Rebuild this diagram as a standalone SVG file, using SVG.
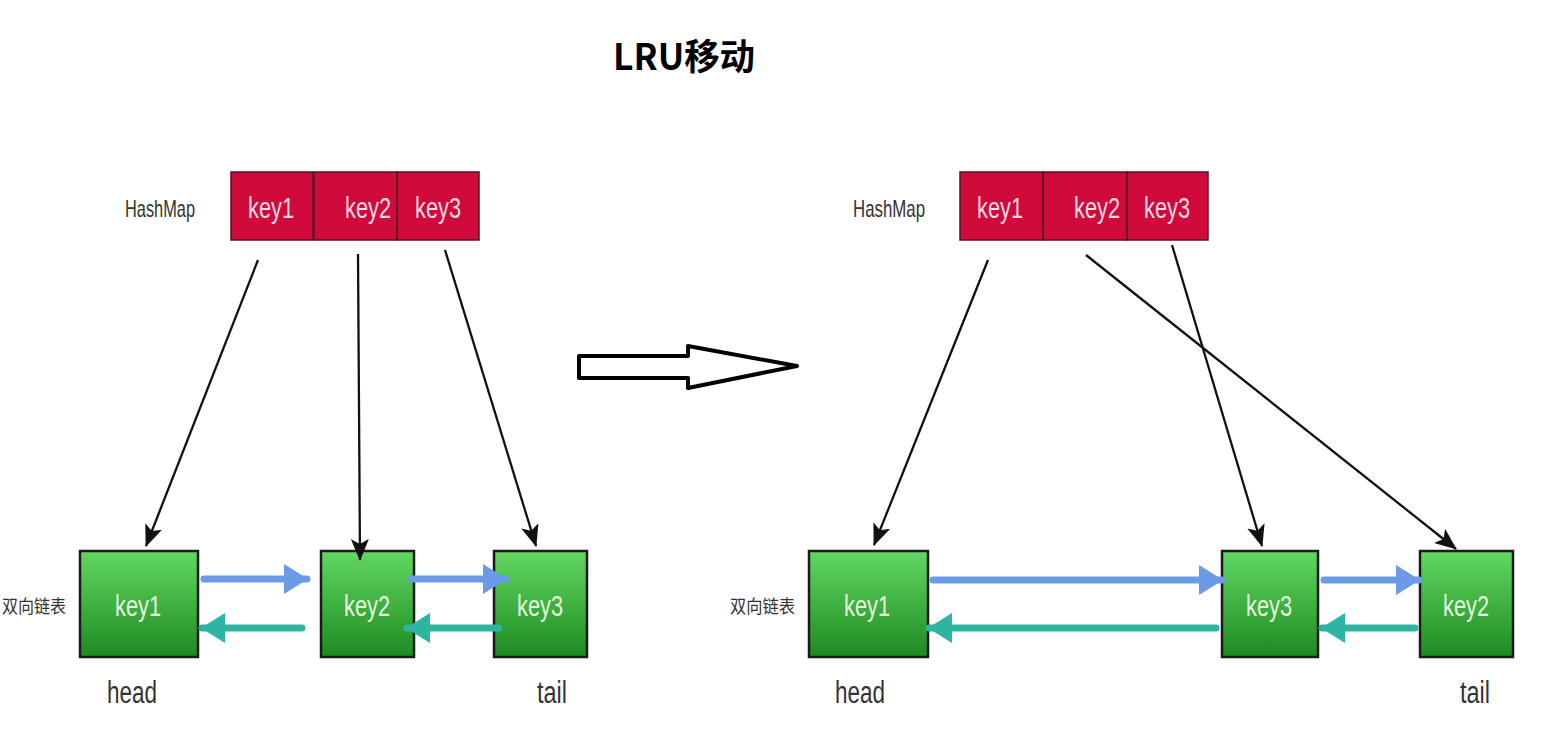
<svg xmlns="http://www.w3.org/2000/svg" width="1560" height="732" viewBox="0 0 1560 732">
<defs>
<linearGradient id="g" x1="0" y1="0" x2="0" y2="1">
<stop offset="0" stop-color="#62d862"/>
<stop offset="1" stop-color="#1d8a22"/>
</linearGradient>
<marker id="ah" viewBox="0 0 22 18" refX="21" refY="9" markerWidth="22" markerHeight="18" markerUnits="userSpaceOnUse" orient="auto">
<path d="M0,0 L22,9 L0,18 L5,9 Z" fill="#111"/>
</marker>
<marker id="bh" viewBox="0 0 24 30" refX="23" refY="15" markerWidth="24" markerHeight="30" markerUnits="userSpaceOnUse" orient="auto">
<path d="M0,0 L24,15 L0,30 Z" fill="#6b9be8"/>
</marker>
<marker id="th" viewBox="0 0 24 30" refX="23" refY="15" markerWidth="24" markerHeight="30" markerUnits="userSpaceOnUse" orient="auto">
<path d="M0,0 L24,15 L0,30 Z" fill="#2db5a2"/>
</marker>
</defs>
<style>
.red{fill:#d10a3c;stroke:#5a1020;stroke-width:1.5}
.grn{fill:url(#g);stroke:#1a1a1a;stroke-width:2.5}
.kt{font-family:"Liberation Sans",Arial,sans-serif;font-size:29px;text-anchor:middle}
.rt{fill:#f7dbe2}
.gt{fill:#e4f7dc}
.lbl{font-family:"Liberation Sans",Arial,sans-serif;font-size:24px;fill:#333}
.cn{font-family:"Noto Sans CJK SC",sans-serif;font-size:18px;fill:#333}
.ht{font-family:"Liberation Sans",Arial,sans-serif;font-size:31px;fill:#333}
.ptr{stroke:#111;stroke-width:2.3;fill:none;marker-end:url(#ah)}
.nx{stroke:#6b9be8;stroke-width:7;stroke-linecap:round;fill:none;marker-end:url(#bh)}
.pv{stroke:#2db5a2;stroke-width:7;stroke-linecap:round;fill:none;marker-end:url(#th)}
</style>
<rect width="1560" height="732" fill="#fff"/>
<text x="613" y="70" font-family="'Noto Sans CJK SC',sans-serif" font-weight="bold" font-size="36" fill="#000" textLength="142" lengthAdjust="spacingAndGlyphs">LRU移动</text>

<!-- Left side -->
<text class="lbl" x="125" y="217" textLength="70" lengthAdjust="spacingAndGlyphs">HashMap</text>
<g id="L-hm-key1"><rect class="red" x="231" y="172" width="82" height="68"/><text class="kt rt" x="271" y="218" textLength="46" lengthAdjust="spacingAndGlyphs">key1</text></g>
<g id="L-hm-key2"><rect class="red" x="314" y="172" width="83" height="68"/><text class="kt rt" x="368" y="218" textLength="46" lengthAdjust="spacingAndGlyphs">key2</text></g>
<g id="L-hm-key3"><rect class="red" x="397" y="172" width="82" height="68"/><text class="kt rt" x="438" y="218" textLength="46" lengthAdjust="spacingAndGlyphs">key3</text></g>

<text class="cn" x="2" y="613" textLength="64" lengthAdjust="spacingAndGlyphs">双向链表</text>
<g id="L-ll-key1"><rect class="grn" x="80" y="551" width="118" height="106"/><text class="kt gt" x="138" y="616" textLength="46" lengthAdjust="spacingAndGlyphs">key1</text></g>
<g id="L-ll-key2"><rect class="grn" x="321" y="551" width="93" height="106"/><text class="kt gt" x="367" y="616" textLength="46" lengthAdjust="spacingAndGlyphs">key2</text></g>
<g id="L-ll-key3"><rect class="grn" x="494" y="551" width="93" height="106"/><text class="kt gt" x="540" y="616" textLength="46" lengthAdjust="spacingAndGlyphs">key3</text></g>
<text class="ht" x="107" y="703" textLength="50" lengthAdjust="spacingAndGlyphs">head</text>
<text class="ht" x="537" y="703" textLength="30" lengthAdjust="spacingAndGlyphs">tail</text>

<!-- Hollow arrow -->
<g id="transition">
<path d="M579,356 L688,356 L688,346 L797,366 L688,388 L688,378 L579,378 Z" fill="#fff" stroke="#000" stroke-width="4" stroke-linejoin="round"/>
</g>

<!-- Right side -->
<text class="lbl" x="853" y="217" textLength="72" lengthAdjust="spacingAndGlyphs">HashMap</text>
<g id="R-hm-key1"><rect class="red" x="960" y="172" width="83" height="68"/><text class="kt rt" x="1000" y="218" textLength="46" lengthAdjust="spacingAndGlyphs">key1</text></g>
<g id="R-hm-key2"><rect class="red" x="1043" y="172" width="84" height="68"/><text class="kt rt" x="1097" y="218" textLength="46" lengthAdjust="spacingAndGlyphs">key2</text></g>
<g id="R-hm-key3"><rect class="red" x="1127" y="172" width="81" height="68"/><text class="kt rt" x="1167" y="218" textLength="46" lengthAdjust="spacingAndGlyphs">key3</text></g>

<text class="cn" x="730" y="613" textLength="65" lengthAdjust="spacingAndGlyphs">双向链表</text>
<g id="R-ll-key1"><rect class="grn" x="809" y="551" width="119" height="106"/><text class="kt gt" x="867" y="616" textLength="46" lengthAdjust="spacingAndGlyphs">key1</text></g>
<g id="R-ll-key3"><rect class="grn" x="1222" y="551" width="96" height="106"/><text class="kt gt" x="1269" y="616" textLength="46" lengthAdjust="spacingAndGlyphs">key3</text></g>
<g id="R-ll-key2"><rect class="grn" x="1420" y="551" width="93" height="106"/><text class="kt gt" x="1466" y="616" textLength="46" lengthAdjust="spacingAndGlyphs">key2</text></g>
<text class="ht" x="835" y="703" textLength="50" lengthAdjust="spacingAndGlyphs">head</text>
<text class="ht" x="1460" y="703" textLength="30" lengthAdjust="spacingAndGlyphs">tail</text>

<g id="connectors">
<line class="ptr" x1="258" y1="260" x2="146" y2="546"/>
<line class="ptr" x1="358" y1="254" x2="360" y2="560"/>
<line class="ptr" x1="445" y1="250" x2="536" y2="546"/>
<line class="nx" x1="204" y1="579" x2="307" y2="579"/>
<line class="nx" x1="411" y1="579" x2="506" y2="579"/>
<line class="pv" x1="302" y1="628" x2="202" y2="628"/>
<line class="pv" x1="499" y1="628" x2="407" y2="628"/>

<line class="ptr" x1="988" y1="260" x2="874" y2="545"/>
<line class="ptr" x1="1172" y1="245" x2="1262" y2="546"/>
<line class="ptr" x1="1086" y1="255" x2="1456" y2="549"/>
<line class="nx" x1="933" y1="580" x2="1222" y2="580"/>
<line class="nx" x1="1324" y1="580" x2="1419" y2="580"/>
<line class="pv" x1="1216" y1="628" x2="929" y2="628"/>
<line class="pv" x1="1415" y1="628" x2="1322" y2="628"/>
</g>
</svg>
